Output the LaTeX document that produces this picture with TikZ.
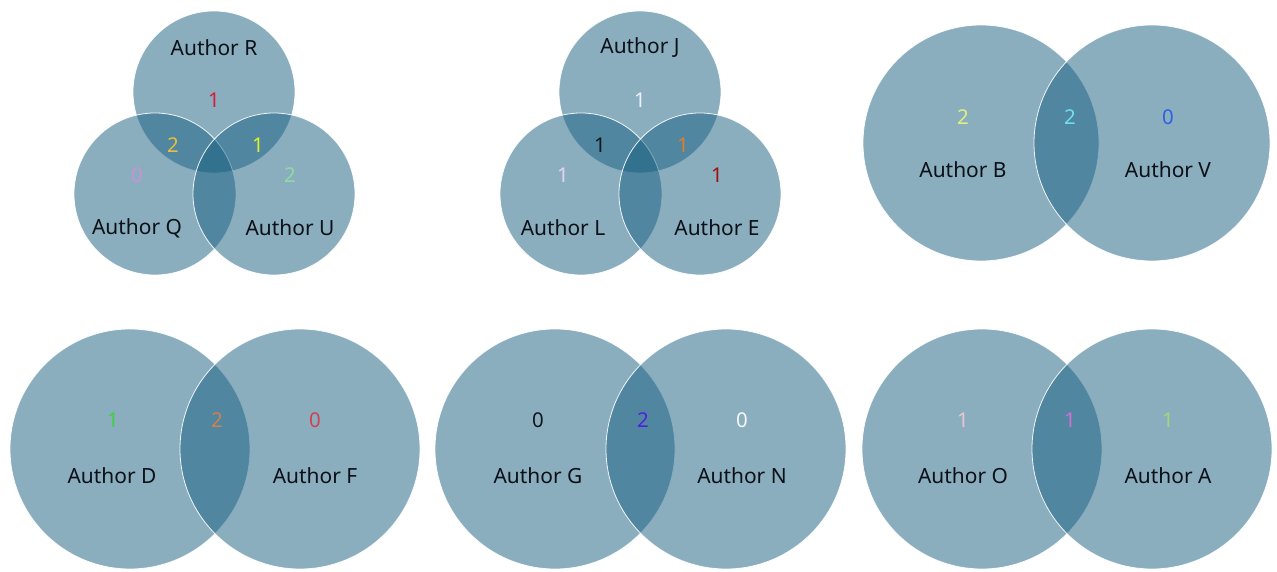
\documentclass[tikz,border=0pt]{standalone}
\usepackage{fontspec}
\setmainfont{Noto Sans}
\begin{document}
\begin{tikzpicture}[x=1bp,y=-1bp,
  setfill/.style={circle,inner sep=0pt,fill={rgb,255:red,23;green,94;blue,128},fill opacity=0.5,draw=white,line width=0.8pt,draw opacity=0.9},
  small/.style={setfill,minimum size=162bp},
  big/.style={setfill,minimum size=236bp},
  bigger/.style={setfill,minimum size=240bp},
  author/.style={font=\fontsize{21}{25}\selectfont,text={rgb,255:red,12;green,16;blue,24}},
  count/.style={font=\fontsize{20.5}{24}\selectfont}]
\useasboundingbox (0,0) rectangle (1277,572);

% colours of the counts
\definecolor{cR}{RGB}{214,28,60}
\definecolor{cQR}{RGB}{232,190,64}
\definecolor{cRU}{RGB}{222,240,40}
\definecolor{cQ}{RGB}{200,146,216}
\definecolor{cU}{RGB}{146,216,162}
\definecolor{cJ}{RGB}{236,242,248}
\definecolor{cJL}{RGB}{16,22,30}
\definecolor{cJE}{RGB}{216,128,48}
\definecolor{cL}{RGB}{232,210,240}
\definecolor{cE}{RGB}{160,16,16}
\definecolor{cB}{RGB}{224,240,128}
\definecolor{cBV}{RGB}{112,224,240}
\definecolor{cV}{RGB}{48,96,224}
\definecolor{cD}{RGB}{64,208,64}
\definecolor{cDF}{RGB}{208,128,80}
\definecolor{cF}{RGB}{208,64,80}
\definecolor{cG}{RGB}{16,22,30}
\definecolor{cGN}{RGB}{80,32,224}
\definecolor{cN}{RGB}{245,248,250}
\definecolor{cO}{RGB}{232,200,208}
\definecolor{cOA}{RGB}{208,112,208}
\definecolor{cA}{RGB}{160,216,128}

% three-set diagram: R, Q, U
\node[small] (setR) at (214,92) {};
\node[small] (setQ) at (155,194) {};
\node[small] (setU) at (274,194) {};
\node[author] (labR) at (214,48) {Author R};
\node[author] (labQ) at (137,228) {Author Q};
\node[author] (labU) at (290,228) {Author U};
\node[count,text=cR] (nR) at (214,100) {1};
\node[count,text=cQR] (nQR) at (173,145) {2};
\node[count,text=cRU] (nRU) at (258,145) {1};
\node[count,text=cQ] (nQ) at (137,175) {0};
\node[count,text=cU] (nU) at (290,175) {2};

% three-set diagram: J, L, E
\node[small] (setJ) at (640,92) {};
\node[small] (setL) at (581,194) {};
\node[small] (setE) at (700,194) {};
\node[author] (labJ) at (640,48) {Author J};
\node[author] (labL) at (563,228) {Author L};
\node[author] (labE) at (717,228) {Author E};
\node[count,text=cJ] (nJ) at (640,100) {1};
\node[count,text=cJL] (nJL) at (600,145) {1};
\node[count,text=cJE] (nJE) at (683,145) {1};
\node[count,text=cL] (nL) at (563,175) {1};
\node[count,text=cE] (nE) at (717,175) {1};

% two-set diagram: B, V
\node[big] (setB) at (981,143) {};
\node[big] (setV) at (1152,143) {};
\node[author] (labB) at (963,170) {Author B};
\node[author] (labV) at (1168,170) {Author V};
\node[count,text=cB] (nB) at (963,117) {2};
\node[count,text=cBV] (nBV) at (1070,117) {2};
\node[count,text=cV] (nV) at (1168,117) {0};

% two-set diagram: D, F
\node[bigger] (setD) at (130,449) {};
\node[bigger] (setF) at (300,449) {};
\node[author] (labD) at (112,476) {Author D};
\node[author] (labF) at (315,476) {Author F};
\node[count,text=cD] (nD) at (113,420) {1};
\node[count,text=cDF] (nDF) at (217,420) {2};
\node[count,text=cF] (nF) at (315,420) {0};

% two-set diagram: G, N
\node[bigger] (setG) at (555,449) {};
\node[bigger] (setN) at (726,449) {};
\node[author] (labG) at (538,476) {Author G};
\node[author] (labN) at (742,476) {Author N};
\node[count,text=cG] (nG) at (538,420) {0};
\node[count,text=cGN] (nGN) at (643,420) {2};
\node[count,text=cN] (nN) at (742,420) {0};

% two-set diagram: O, A
\node[bigger] (setO) at (982,449) {};
\node[bigger] (setA) at (1152,449) {};
\node[author] (labO) at (963,476) {Author O};
\node[author] (labA) at (1168,476) {Author A};
\node[count,text=cO] (nO) at (963,420) {1};
\node[count,text=cOA] (nOA) at (1070,420) {1};
\node[count,text=cA] (nA) at (1168,420) {1};
\end{tikzpicture}
\end{document}
